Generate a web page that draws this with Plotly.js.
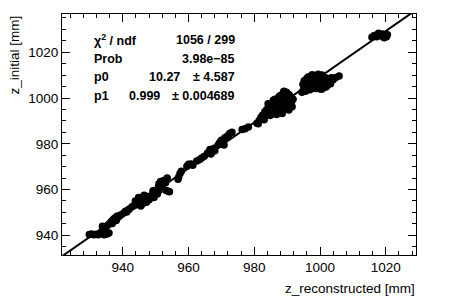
<!DOCTYPE html>
<html>
<head>
<meta charset="utf-8">
<script src="https://cdn.plot.ly/plotly-3.0.1.min.js"></script>
<style>html,body{margin:0;padding:0;background:#fff;}#chart{width:449px;height:305px;}</style>
</head>
<body>
<div id="chart"></div>
<script>
// Data points: z_reconstructed (x) vs z_initial (y)
const zReco = [
929.8,930.5,931.2,931.9,932.5,933.0,
933.5,934.0,934.3,934.8,935.2,935.5,935.8,934.6,936.0,933.8,
936.5,937.0,937.5,938.0,938.5,939.0,939.5,936.8,938.2,
940.3,940.8,941.5,942.0,942.8,941.2,
943.5,944.0,944.5,945.0,945.3,945.8,946.0,946.3,946.8,947.2,947.5,948.0,944.8,946.5,945.5,947.8,943.8,
948.5,949.0,949.5,950.0,950.5,951.0,949.2,
951.0,951.5,952.0,952.5,953.0,953.5,952.2,950.8,953.8,953.2,954.2,
957.0,957.4,956.8,957.8,
959.5,960.0,960.8,961.3,
962.5,963.3,964.0,964.8,
965.8,966.5,967.2,967.8,966.8,968.0,
969.0,969.5,970.0,970.5,971.0,971.5,972.0,972.5,973.2,970.8,
976.3,977.2,978.2,
980.8,981.5,982.0,982.5,983.0,981.2,
983.5,983.8,984.0,984.3,984.6,984.8,985.0,985.2,985.5,985.7,986.0,986.2,986.5,986.7,987.0,987.2,987.5,987.7,988.0,988.2,988.5,988.7,989.0,989.2,989.5,989.7,990.0,990.2,990.5,990.8,991.0,991.3,988.8,989.8,986.3,987.8,984.2,985.8,983.2,986.8,988.3,990.3,
989.5,990.5,991.5,991.8,990.9,989.0,987.5,986.0,984.8,985.5,987.0,988.5,
994.5,995.0,995.3,995.6,996.0,996.2,996.5,996.8,997.0,997.2,997.5,997.8,998.0,998.3,998.5,998.8,999.0,999.3,999.5,999.8,1000.0,1000.3,1000.5,1000.8,1001.2,1001.5,1002.0,1002.5,1003.0,1003.5,1004.0,1004.8,1005.8,997.3,996.0,995.8,994.8,1001.0,1002.2,998.6,
995.2,996.4,997.6,998.2,999.4,1000.6,1001.8,1003.2,999.9,996.9,
1015.8,1016.5,1017.2,1018.0,1018.8,1019.5,1020.2,1020.5,1019.0,1017.8
];
const zInit = [
940.4,940.6,940.3,940.5,940.2,940.8,
941.5,942.8,940.2,943.5,940.6,944.5,941.0,941.8,945.2,944.0,
946.0,946.8,947.5,946.5,947.8,948.5,949.0,945.2,948.3,
949.8,950.5,951.0,951.5,952.5,950.2,
953.0,954.5,953.5,955.5,954.0,956.0,953.8,955.0,956.8,954.5,957.0,955.5,956.5,957.5,952.8,956.2,955.0,
957.0,958.0,956.5,959.0,958.0,959.5,959.5,
962.5,963.5,961.5,964.0,963.0,965.0,962.8,961.0,959.2,959.6,959.0,
965.5,967.0,964.5,968.0,
970.2,971.0,971.2,970.6,
972.5,973.0,973.8,974.5,
976.0,977.5,976.5,978.0,975.5,977.0,
979.5,980.5,981.5,980.0,982.5,983.0,983.5,984.5,985.0,979.5,
986.2,986.6,987.3,
989.0,990.2,991.5,992.5,990.5,988.8,
993.0,995.0,992.5,994.2,996.0,993.5,995.5,992.8,997.0,994.8,996.2,993.8,998.0,995.5,997.2,994.5,999.0,996.5,998.0,995.2,1000.0,997.5,999.2,996.0,1001.0,998.5,1000.2,997.0,1001.5,999.0,996.5,998.0,1002.2,1002.5,999.5,1001.0,997.5,999.0,994.0,992.8,994.5,995.8,
995.0,994.8,996.2,999.5,1000.8,1003.0,1000.5,998.2,992.3,995.2,994.0,993.2,
1002.5,1004.0,1005.5,1003.0,1006.0,1004.5,1007.0,1005.2,1008.0,1006.0,1004.2,1008.5,1007.0,1005.5,1009.0,1007.5,1006.0,1009.5,1008.0,1005.0,1009.8,1007.5,1003.8,1008.5,1006.5,1009.0,1007.8,1008.5,1007.0,1008.8,1008.0,1009.0,1009.6,1009.5,1008.5,1007.0,1006.0,1004.5,1005.5,1004.2,
1007.5,1009.2,1010.2,1006.8,1010.4,1010.0,1004.8,1006.2,1004.0,1003.6,
1026.5,1027.3,1026.8,1027.5,1027.0,1026.3,1026.8,1027.6,1028.0,1028.3
];
// Fit parameters (pol1: y = p0 + p1*x)
const fitParams = [10.27, 0.999];
const xRange = [921.5, 1029.2];
const yRange = [931.4, 1036.7];
const statLabels = ["χ<sup>2</sup> / ndf", "Prob", "p0", "p1"];
const statValues = ["1056 / 299", "3.98e−85", "10.27", "0.999"];
const statErrors = ["", "", "± 4.587", "± 0.004689"];

const fitX = xRange.slice();
const fitY = fitX.map(x => fitParams[0] + fitParams[1] * x);

const W = 449, H = 305;
const M = {l: 62, r: 33, t: 14, b: 50};
const pw = W - M.l - M.r, ph = H - M.t - M.b;
const px = x => (x - M.l) / pw;
const py = y => (H - M.b - y) / ph;

const font = {family: "Liberation Sans, Arial, sans-serif", color: "#000"};
const bold = Object.assign({}, font, {size: 12.5, weight: 700});

const annotations = [];
const rowY = [40, 59, 77.5, 96];
statLabels.forEach((t, i) => {
  annotations.push({text: t, xref: "paper", yref: "paper", x: px(92), y: py(rowY[i]),
    xanchor: "left", yanchor: "middle", showarrow: false, font: bold});
  if (statErrors[i]) {
    annotations.push({text: statValues[i], xref: "paper", yref: "paper",
      x: px(i === 2 ? 182 : 162), y: py(rowY[i]), xanchor: "right", yanchor: "middle", showarrow: false, font: bold});
    annotations.push({text: statErrors[i], xref: "paper", yref: "paper", x: px(237), y: py(rowY[i]),
      xanchor: "right", yanchor: "middle", showarrow: false, font: bold});
  } else {
    annotations.push({text: statValues[i], xref: "paper", yref: "paper", x: px(237), y: py(rowY[i]),
      xanchor: "right", yanchor: "middle", showarrow: false, font: bold});
  }
});
annotations.push({text: "z_reconstructed [mm]", xref: "paper", yref: "paper", x: px(417), y: py(288),
  xanchor: "right", yanchor: "middle", showarrow: false, font: Object.assign({}, font, {size: 13.5})});
annotations.push({text: "z_initial [mm]", xref: "paper", yref: "paper", x: px(14), y: py(14),
  xanchor: "center", yanchor: "top", textangle: -90, showarrow: false, font: Object.assign({}, font, {size: 13.5})});

const axisCommon = {
  showgrid: false, zeroline: false, showline: true, linecolor: "#000", linewidth: 1,
  mirror: "allticks", ticks: "inside", ticklen: 8, tickwidth: 1, tickcolor: "#000",
  dtick: 20, tick0: 0, tickfont: Object.assign({}, font, {size: 13.5})
};

const data = [
  {x: zReco, y: zInit, type: "scatter", mode: "markers",
   marker: {color: "#000", size: 7.5, symbol: "circle"}, hoverinfo: "skip"},
  {x: fitX, y: fitY, type: "scatter", mode: "lines",
   line: {color: "#000", width: 2}, hoverinfo: "skip"}
];

const layout = {
  width: W, height: H, margin: M, showlegend: false,
  paper_bgcolor: "#fff", plot_bgcolor: "#fff",
  xaxis: Object.assign({}, axisCommon, {range: xRange,
    minor: {dtick: 4, ticks: "inside", ticklen: 4, tickcolor: "#000", showgrid: false}}),
  yaxis: Object.assign({}, axisCommon, {range: yRange,
    minor: {dtick: 5, ticks: "inside", ticklen: 4, tickcolor: "#000", showgrid: false}}),
  annotations: annotations
};

Plotly.newPlot("chart", data, layout, {staticPlot: true, displayModeBar: false});
</script>
</body>
</html>
